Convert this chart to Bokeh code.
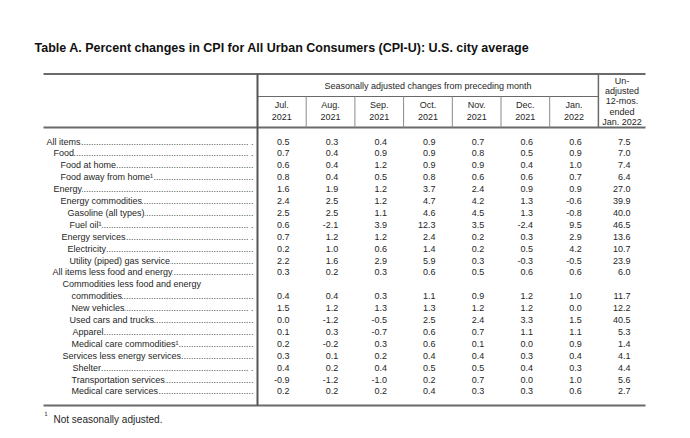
from bokeh.plotting import figure
from bokeh.models import Range1d
from bokeh.core.properties import value
from bokeh.embed import file_html
from bokeh.resources import INLINE

# ---------------- data ----------------
title = "Table A. Percent changes in CPI for All Urban Consumers (CPI-U): U.S. city average"
span_header = "Seasonally adjusted changes from preceding month"
months = ["Jul.", "Aug.", "Sep.", "Oct.", "Nov.", "Dec.", "Jan."]
years = ["2021", "2021", "2021", "2021", "2021", "2021", "2022"]
unadj_header = ["Un-", "adjusted", "12-mos.", "ended", "Jan. 2022"]
footnote_mark = "\u00b9"
footnote = "Not seasonally adjusted."

items = [
    "All items",
    "Food",
    "Food at home",
    "Food away from home\u00b9",
    "Energy",
    "Energy commodities",
    "Gasoline (all types)",
    "Fuel oil\u00b9",
    "Energy services",
    "Electricity",
    "Utility (piped) gas service",
    "All items less food and energy",
    "Commodities less food and energy\ncommodities",
    "New vehicles",
    "Used cars and trucks",
    "Apparel",
    "Medical care commodities\u00b9",
    "Services less energy services",
    "Shelter",
    "Transportation services",
    "Medical care services",
]
jul_2021 = [0.5, 0.7, 0.6, 0.8, 1.6, 2.4, 2.5, 0.6, 0.7, 0.2, 2.2, 0.3, 0.4, 1.5, 0.0, 0.1, 0.2, 0.3, 0.4, -0.9, 0.2]
aug_2021 = [0.3, 0.4, 0.4, 0.4, 1.9, 2.5, 2.5, -2.1, 1.2, 1.0, 1.6, 0.2, 0.4, 1.2, -1.2, 0.3, -0.2, 0.1, 0.2, -1.2, 0.2]
sep_2021 = [0.4, 0.9, 1.2, 0.5, 1.2, 1.2, 1.1, 3.9, 1.2, 0.6, 2.9, 0.3, 0.3, 1.3, -0.5, -0.7, 0.3, 0.2, 0.4, -1.0, 0.2]
oct_2021 = [0.9, 0.9, 0.9, 0.8, 3.7, 4.7, 4.6, 12.3, 2.4, 1.4, 5.9, 0.6, 1.1, 1.3, 2.5, 0.6, 0.6, 0.4, 0.5, 0.2, 0.4]
nov_2021 = [0.7, 0.8, 0.9, 0.6, 2.4, 4.2, 4.5, 3.5, 0.2, 0.2, 0.3, 0.5, 0.9, 1.2, 2.4, 0.7, 0.1, 0.4, 0.5, 0.7, 0.3]
dec_2021 = [0.6, 0.5, 0.4, 0.6, 0.9, 1.3, 1.3, -2.4, 0.3, 0.5, -0.3, 0.6, 1.2, 1.2, 3.3, 1.1, 0.0, 0.3, 0.4, 0.0, 0.3]
jan_2022 = [0.6, 0.9, 1.0, 0.7, 0.9, -0.6, -0.8, 9.5, 2.9, 4.2, -0.5, 0.6, 1.0, 0.0, 1.5, 1.1, 0.9, 0.4, 0.3, 1.0, 0.6]
unadj_12mo = [7.5, 7.0, 7.4, 6.4, 27.0, 39.9, 40.0, 46.5, 13.6, 10.7, 23.9, 6.0, 11.7, 12.2, 40.5, 5.3, 1.4, 4.1, 4.4, 5.6, 2.7]

# ---------------- layout (pixels) ----------------
indent_px = [46, 53, 60, 60, 53, 60, 67, 69, 61, 67, 69, 52, (62, 71), 71, 69, 72, 71, 62, 72, 71, 71]
gap_rows = {"All items", "Food", "Fuel oil\u00b9", "Energy services", "New vehicles", "Shelter"}

W, H = 688, 436
FONT = "Liberation Sans"
TXT = "#262626"
LINE = "#6a6a6a"
FS = "9px"

tbl_left, tbl_right = 43, 645
stub_right = 257
col_w = 48.7
row0, row_h = 141, 11.9
top_y, mid_y, head_y, bot_y = 73.5, 96, 127, 405
dot_end = 253
dot_w = 2.5

p = figure(width=W, height=H, output_backend="svg", toolbar_location=None,
           x_range=Range1d(0, W), y_range=Range1d(H, 0),
           x_axis_type=None, y_axis_type=None, min_border=0)
p.grid.visible = False
p.outline_line_color = None
p.background_fill_color = "white"
p.border_fill_color = "white"

# ---------------- rules ----------------
col_edges = [stub_right + col_w * i for i in range(len(months) + 2)]
x0 = [tbl_left, stub_right, tbl_left, tbl_left]
x1 = [tbl_right, col_edges[len(months)], tbl_right, tbl_right]
ys = [top_y, mid_y, head_y, bot_y]
p.segment(x0=x0, y0=ys, x1=x1, y1=ys, line_color=LINE, line_width=[2, 1, 2, 2])
p.segment(x0=[stub_right], y0=[top_y], x1=[stub_right], y1=[bot_y], line_color="#555555", line_width=2)
p.segment(x0=[col_edges[len(months)]], y0=[top_y], x1=[col_edges[len(months)]], y1=[head_y],
          line_color=LINE, line_width=1.5)
div_x = col_edges[1:len(months)]
p.segment(x0=div_x, y0=[mid_y] * len(div_x), x1=div_x, y1=[head_y] * len(div_x),
          line_color="#8a8a8a", line_width=1)

# ---------------- title / headers ----------------
p.text(x=[34], y=[47], text=[title], text_font=value(FONT),
       text_font_size="12.5px", text_font_style="bold", text_color="#111111", text_baseline="middle")
p.text(x=[(stub_right + col_edges[len(months)]) / 2], y=[85], text=[span_header], text_font=value(FONT),
       text_font_size=FS, text_color=TXT, text_align="center", text_baseline="middle")
centers = [stub_right + col_w * (i + 0.5) for i in range(len(months))]
p.text(x=centers, y=[104.5] * len(months), text=months, text_font=value(FONT), text_font_size=FS,
       text_color=TXT, text_align="center", text_baseline="middle")
p.text(x=centers, y=[116.5] * len(months), text=years, text_font=value(FONT), text_font_size=FS,
       text_color=TXT, text_align="center", text_baseline="middle")
ucx = col_edges[len(months)] + (tbl_right - col_edges[len(months)]) / 2
p.text(x=[ucx] * len(unadj_header), y=[80.5 + 10.2 * i for i in range(len(unadj_header))], text=unadj_header,
       text_font=value(FONT), text_font_size=FS, text_color=TXT, text_align="center", text_baseline="middle")

# ---------------- body ----------------
lab_x, lab_y, lab_t = [], [], []
dot_y, dot_t = [], []
val_row_y = []
k = 0
for name, ind in zip(items, indent_px):
    parts = name.split("\n")
    inds = ind if isinstance(ind, tuple) else (ind,)
    for j, part in enumerate(parts):
        lab_x.append(inds[j] if j < len(inds) else inds[-1])
        lab_y.append(row0 + row_h * k)
        lab_t.append(part)
        if j < len(parts) - 1:
            k += 1
    last_ind = inds[-1]
    n = int((dot_end - last_ind) / dot_w)
    s = "." * n
    if name in gap_rows:
        s = "." * (n - 2) + " ."
    dot_y.append(row0 + row_h * k)
    dot_t.append(s)
    val_row_y.append(row0 + row_h * k)
    k += 1

p.text(x=[dot_end] * len(dot_t), y=dot_y, text=dot_t, text_font=value(FONT), text_font_size=FS,
       text_color="#444444", text_align="right", text_baseline="middle")
p.text(x=lab_x, y=lab_y, text=lab_t, text_font=value(FONT), text_font_size=FS, text_color=TXT,
       text_baseline="middle", background_fill_color="white")

columns = [jul_2021, aug_2021, sep_2021, oct_2021, nov_2021, dec_2021, jan_2022, unadj_12mo]
vx, vy, vt = [], [], []
for ci, col in enumerate(columns):
    for ri, v in enumerate(col):
        vx.append(col_edges[ci] + 32)
        vy.append(val_row_y[ri])
        vt.append(f"{v:.1f}")
p.text(x=vx, y=vy, text=vt, text_font=value(FONT), text_font_size=FS, text_color=TXT,
       text_align="right", text_baseline="middle")

# ---------------- footnote ----------------
p.text(x=[44], y=[414], text=[footnote_mark], text_font=value(FONT), text_font_size="9px",
       text_color=TXT, text_baseline="middle")
p.text(x=[53], y=[418.5], text=[footnote], text_font=value(FONT), text_font_size="10px",
       text_color=TXT, text_baseline="middle")

open("out.html", "w").write(file_html(p, INLINE))
